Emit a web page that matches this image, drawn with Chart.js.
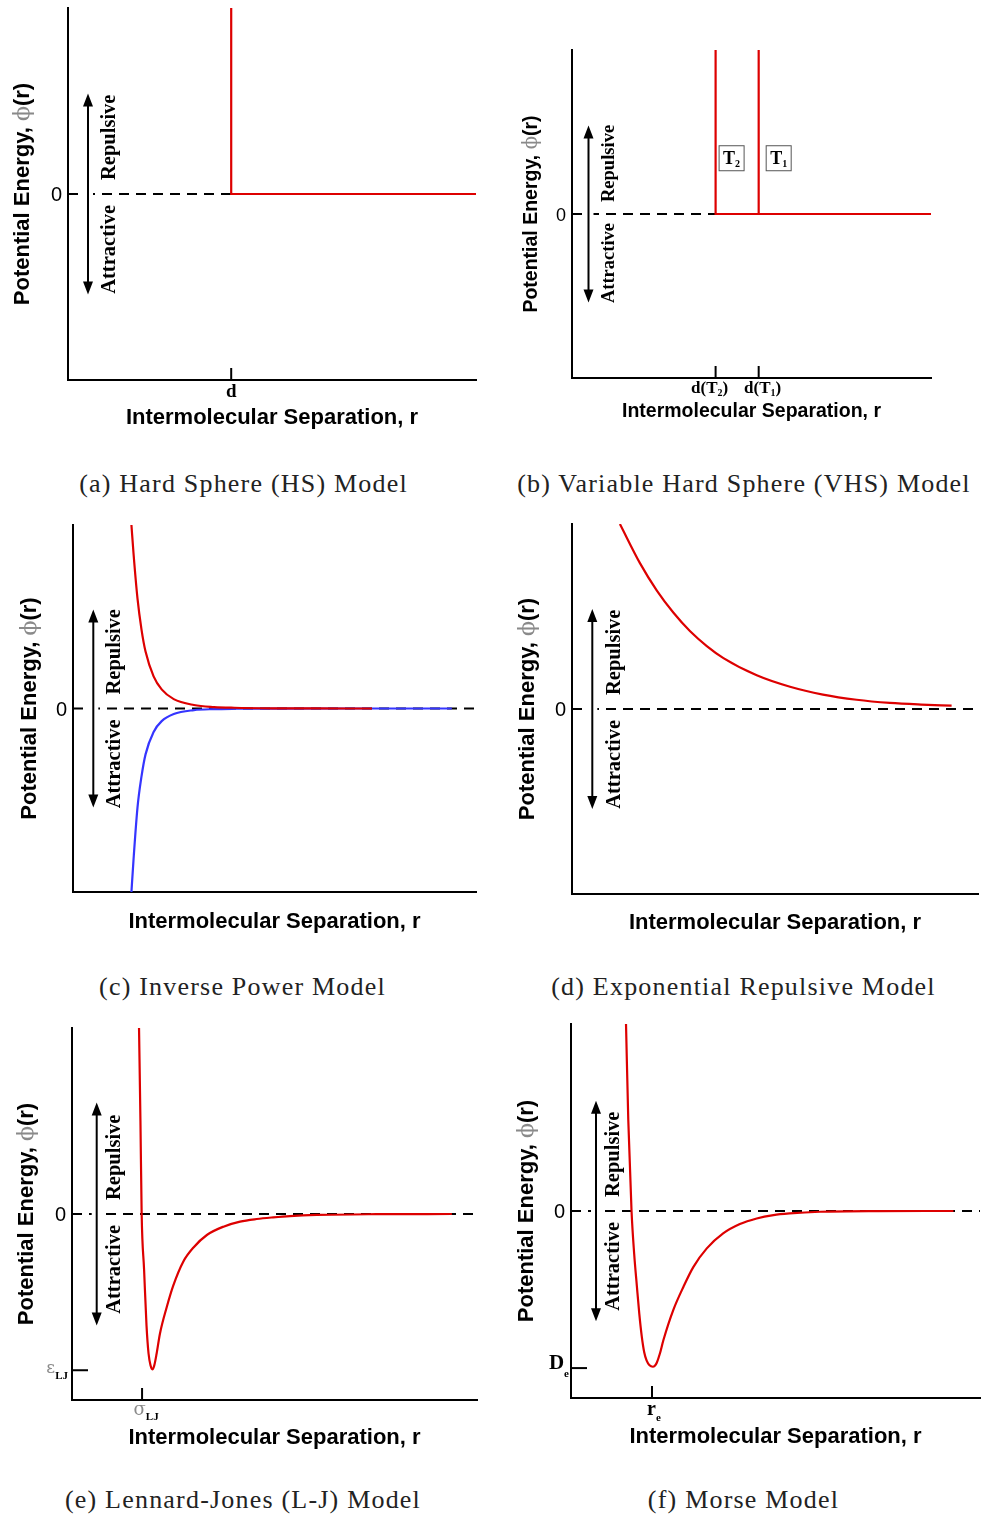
<!DOCTYPE html>
<html>
<head>
<meta charset="utf-8">
<title>Intermolecular potential models</title>
<script src="https://cdn.jsdelivr.net/npm/chart.js@4.4.1/dist/chart.umd.min.js"></script>
<style>
  body { margin: 0; background: #fff; }
  #page { position: relative; width: 982px; height: 1520px; overflow: hidden; }
  #page canvas { position: absolute; }
  .cap { position: absolute; transform: translateX(-50%); white-space: nowrap;
         font-family: "Liberation Serif", "Times New Roman", serif; font-size: 26px;
         letter-spacing: 1.2px; line-height: 30px; color: #222; }
</style>
</head>
<body>
<div id="page"></div>
<script>
// data: r in arbitrary units (0..10), phi scaled to -1..1
const rAxis = [0, 10];
const zeroPhi = [0, 0];

// (a) hard sphere
const hsR = [4, 4, 10];
const hsPhi = [1, 0, 0];
const hsTickR = [4];
const hsTickLabels = ['d'];

// (b) variable hard sphere
const vhsT2R = [4, 4, 10];
const vhsT2Phi = [1, 0, 0];
const vhsT1R = [5.2, 5.2];
const vhsT1Phi = [1, 0];
const vhsTickR = [4, 5.2];
const vhsTickSubs = ['2', '1'];
const vhsBoxPhi = 0.34;

// (c) inverse power
const ipRepR = [1.45, 1.5, 1.6, 1.7, 1.8, 2.0, 2.2, 2.5, 3.0, 3.5, 4.0, 5.0, 6.0, 7.42];
const ipRepPhi = [1.0, 0.85, 0.60, 0.43, 0.31, 0.175, 0.104, 0.051, 0.019, 0.008, 0.004, 0.001, 0.0003, 0];
const ipAttR = [1.45, 1.5, 1.6, 1.7, 1.8, 2.0, 2.2, 2.5, 3.0, 3.5, 4.0, 5.0, 7.0, 9.4];
const ipAttPhi = [-1.0, -0.83, -0.54, -0.37, -0.25, -0.128, -0.069, -0.030, -0.009, -0.0034, -0.0014, -0.0003, 0, 0];

// (d) exponential repulsive
const erR = [1.18, 1.67, 2.09, 2.50, 2.91, 3.32, 3.73, 4.55, 5.37, 6.18, 7.01, 7.83, 8.6, 9.35];
const erPhi = [1.0, 0.79, 0.64, 0.52, 0.42, 0.34, 0.275, 0.182, 0.12, 0.078, 0.05, 0.033, 0.024, 0.018];

// (e) Lennard-Jones
const ljR = [1.655, 1.69, 1.72, 1.78, 1.84, 1.89, 1.94, 1.983, 2.03, 2.09, 2.17, 2.34, 2.50, 2.75, 3.0, 3.33, 3.74, 4.15, 4.56, 4.97, 5.38, 6.04, 7.5, 9.38];
const ljPhi = [1.0, 0.5, 0.0, -0.30, -0.60, -0.75, -0.815, -0.835, -0.815, -0.75, -0.645, -0.50, -0.385, -0.255, -0.18, -0.113, -0.068, -0.041, -0.027, -0.018, -0.011, -0.005, -0.001, 0];
const ljSigma = 1.73;
const ljEps = -0.84;

// (f) Morse
const mR = [1.345, 1.40, 1.48, 1.545, 1.61, 1.67, 1.73, 1.79, 1.85, 1.92, 2.0, 2.05, 2.10, 2.17, 2.26, 2.50, 2.75, 2.99, 3.32, 3.72, 4.13, 4.54, 4.95, 5.35, 6.09, 7.5, 9.35];
const mPhi = [1.0, 0.49, 0.0, -0.23, -0.40, -0.55, -0.67, -0.755, -0.80, -0.825, -0.833, -0.828, -0.81, -0.765, -0.69, -0.53, -0.405, -0.30, -0.20, -0.12, -0.07, -0.04, -0.022, -0.013, -0.004, -0.0005, 0];
const mRe = 1.98;
const mDe = -0.84;

const captions = [
  '(a) Hard Sphere (HS) Model',
  '(b) Variable Hard Sphere (VHS) Model',
  '(c) Inverse Power Model',
  '(d) Exponential Repulsive Model',
  '(e) Lennard-Jones (L-J) Model',
  '(f) Morse Model'
];

// ---- styling helpers ----
const RED = '#dd0000';
const BLUE = '#3535ff';
const SANS = '"Liberation Sans", Arial, sans-serif';
const SERIF = '"Liberation Serif", "Times New Roman", serif';
const sans = (s, b) => (b ? 'bold ' : '') + s + 'px ' + SANS;
const serif = (s, b) => (b ? 'bold ' : '') + s + 'px ' + SERIF;

const pts = (xs, ys) => xs.map((x, i) => ({ x: x, y: ys[i] }));
const line = (xs, ys, color, smooth) => ({
  data: pts(xs, ys), borderColor: color, borderWidth: 2.2, pointRadius: 0,
  fill: false, tension: 0, cubicInterpolationMode: smooth ? 'monotone' : 'default'
});
const zeroLine = () => ({
  data: pts(rAxis, zeroPhi), borderColor: '#000', borderWidth: 2, borderDash: [10, 7],
  pointRadius: 0, fill: false
});

function rich(ctx, parts, x, y, align) {
  let w = 0;
  parts.forEach(p => { ctx.font = p.f; p.w = ctx.measureText(p.t).width; w += p.w; });
  let cx = align === 'center' ? x - w / 2 : align === 'right' ? x - w : x;
  ctx.textAlign = 'left';
  ctx.textBaseline = 'alphabetic';
  parts.forEach(p => {
    ctx.font = p.f;
    ctx.fillStyle = p.c || '#000';
    ctx.fillText(p.t, cx, y + (p.dy || 0));
    cx += p.w;
  });
}
function rotText(ctx, parts, x, y, align) {
  ctx.save();
  ctx.translate(x, y);
  ctx.rotate(-Math.PI / 2);
  rich(ctx, parts, 0, 0, align);
  ctx.restore();
}
const yTitleParts = s => [
  { t: 'Potential Energy, ', f: sans(s, true) },
  { t: 'ϕ', f: s + 'px "DejaVu Serif"', c: '#8a8a8a' },
  { t: '(r)', f: sans(s, true) }
];

// ---- panel layout (page pixels) ----
const panels = [
  { box: [0, 0, 491, 455], area: [68, 8, 476, 380], title: 22, side: 20.5, zero: 20,
    yTitleX: 29, xTitleY: 424, arrowDx: 20, arrowSpan: 0.54, sideX: 115, gapUp: 14, gapDown: 11,
    datasets: [line(hsR, hsPhi, RED), zeroLine()],
    xTicks: hsTickR.map((v, i) => ({ v: v, dx: 0, y: 397, parts: [{ t: hsTickLabels[i], f: serif(19, true) }] })),
    yTicks: [], boxes: [] },
  { box: [491, 0, 491, 455], area: [572, 50, 931, 378], title: 19.5, side: 18.5, zero: 18,
    yTitleX: 537, xTitleY: 417, arrowDx: 16.5, arrowSpan: 0.54, sideX: 614, gapUp: 12, gapDown: 9,
    datasets: [line(vhsT2R, vhsT2Phi, RED), line(vhsT1R, vhsT1Phi, RED), zeroLine()],
    xTicks: vhsTickR.map((v, i) => ({ v: v, dx: i === 0 ? -6 : 4, y: 393, parts: [
      { t: 'd(T', f: serif(17, true) }, { t: vhsTickSubs[i], f: serif(10, true), dy: 3 }, { t: ')', f: serif(17, true) }] })),
    yTicks: [],
    boxes: vhsTickR.map((v, i) => ({ v: v, phi: vhsBoxPhi, dx: i === 0 ? 3 : 7, parts: [
      { t: 'T', f: serif(18, true) }, { t: vhsTickSubs[i], f: serif(10, true), dy: 3 }] })) },
  { box: [0, 455, 491, 505], area: [73, 525, 476, 892], title: 22, side: 20.5, zero: 20,
    yTitleX: 35.8, xTitleY: 927.5, arrowDx: 20.3, arrowSpan: 0.54, sideX: 120, gapUp: 14, gapDown: 11,
    datasets: [line(ipRepR, ipRepPhi, RED, true), line(ipAttR, ipAttPhi, BLUE, true), zeroLine()],
    xTicks: [], yTicks: [], boxes: [] },
  { box: [491, 455, 491, 505], area: [572, 524, 978, 894], title: 22, side: 20.5, zero: 20,
    yTitleX: 534, xTitleY: 929, arrowDx: 20.3, arrowSpan: 0.54, sideX: 620, gapUp: 14, gapDown: 11,
    datasets: [line(erR, erPhi, RED, true), zeroLine()],
    xTicks: [], yTicks: [], boxes: [] },
  { box: [0, 960, 491, 500], area: [72, 1028, 477, 1400], title: 22, side: 20.5, zero: 20,
    yTitleX: 32.5, xTitleY: 1444, arrowDx: 24.7, arrowSpan: 0.6, sideX: 119.5, gapUp: 14, gapDown: 11,
    datasets: [line(ljR, ljPhi, RED, true), zeroLine()],
    xTicks: [{ v: ljSigma, dx: 4, y: 1415, parts: [
      { t: 'σ', f: '18px "DejaVu Serif"', c: '#8a8a8a' }, { t: 'LJ', f: serif(11, true), dy: 5 }] }],
    yTicks: [{ v: ljEps, rx: 4, dy: 3, parts: [
      { t: 'ε', f: '17px "DejaVu Serif"', c: '#8a8a8a' }, { t: 'LJ', f: serif(11, true), dy: 6 }] }],
    boxes: [] },
  { box: [491, 960, 491, 500], area: [571, 1024, 980, 1398], title: 22, side: 20.5, zero: 20,
    yTitleX: 532.5, xTitleY: 1442.5, arrowDx: 25, arrowSpan: 0.59, sideX: 618.5, gapUp: 14, gapDown: 11,
    datasets: [line(mR, mPhi, RED, true), zeroLine()],
    xTicks: [{ v: mRe, dx: 2, y: 1415, parts: [
      { t: 'r', f: serif(20, true) }, { t: 'e', f: serif(11, true), dy: 6 }] }],
    yTicks: [{ v: mDe, rx: 2, dy: 1, parts: [
      { t: 'D', f: serif(21, true) }, { t: 'e', f: serif(11, true), dy: 8 }] }],
    boxes: [] }
];
const capPos = [[243.5, 484], [744, 484], [242.5, 987], [743.5, 987], [243, 1500], [743.5, 1500]];

function makeDecor(p) {
  const ox = p.box[0], oy = p.box[1];
  return {
    id: 'decor',
    afterDatasetsDraw(chart) {
      const ctx = chart.ctx, xs = chart.scales.x, ys = chart.scales.y, A = chart.chartArea;
      const y0 = ys.getPixelForValue(0);
      ctx.save();
      // double arrow
      const ax = A.left + p.arrowDx;
      const aT = ys.getPixelForValue(p.arrowSpan), aB = ys.getPixelForValue(-p.arrowSpan);
      ctx.fillStyle = '#fff';
      ctx.fillRect(ax - 5, y0 - 2, 10, 4);
      ctx.strokeStyle = '#000';
      ctx.fillStyle = '#000';
      ctx.lineWidth = 2;
      ctx.beginPath();
      ctx.moveTo(ax, aT + 8); ctx.lineTo(ax, aB - 8);
      ctx.stroke();
      ctx.beginPath();
      ctx.moveTo(ax, aT); ctx.lineTo(ax - 5, aT + 13); ctx.lineTo(ax + 5, aT + 13); ctx.closePath();
      ctx.moveTo(ax, aB); ctx.lineTo(ax - 5, aB - 13); ctx.lineTo(ax + 5, aB - 13); ctx.closePath();
      ctx.fill();
      // side words
      rotText(ctx, [{ t: 'Repulsive', f: serif(p.side, true) }], p.sideX - ox, y0 - p.gapUp, 'left');
      rotText(ctx, [{ t: 'Attractive', f: serif(p.side, true) }], p.sideX - ox, y0 + p.gapDown, 'right');
      // zero label
      rich(ctx, [{ t: '0', f: sans(p.zero) }], A.left - 6, y0 + 7, 'right');
      // axis titles
      rotText(ctx, yTitleParts(p.title), p.yTitleX - ox, (A.top + A.bottom) / 2, 'center');
      rich(ctx, [{ t: 'Intermolecular Separation, r', f: sans(p.title, true) }], (A.left + A.right) / 2, p.xTitleY - oy, 'center');
      // x ticks (inward) with labels
      ctx.strokeStyle = '#000';
      ctx.lineWidth = 2;
      p.xTicks.forEach(t => {
        const px = xs.getPixelForValue(t.v);
        ctx.beginPath(); ctx.moveTo(px, A.bottom); ctx.lineTo(px, A.bottom - 12); ctx.stroke();
        rich(ctx, t.parts, px + t.dx, t.y - oy, 'center');
      });
      p.yTicks.forEach(t => {
        const py = ys.getPixelForValue(t.v);
        ctx.beginPath(); ctx.moveTo(A.left, py); ctx.lineTo(A.left + 16, py); ctx.stroke();
        rich(ctx, t.parts, A.left - t.rx, py + t.dy, 'right');
      });
      // temperature boxes
      p.boxes.forEach(b => {
        const bx = xs.getPixelForValue(b.v) + b.dx, by = ys.getPixelForValue(b.phi);
        ctx.fillStyle = '#fff';
        ctx.fillRect(bx, by - 13, 26, 26);
        ctx.strokeStyle = '#555';
        ctx.lineWidth = 1;
        ctx.strokeRect(bx + 0.5, by - 12.5, 25, 25);
        rich(ctx, b.parts, bx + 13, by + 6, 'center');
      });
      ctx.restore();
    }
  };
}

const page = document.getElementById('page');
panels.forEach((p, i) => {
  const cv = document.createElement('canvas');
  cv.width = p.box[2];
  cv.height = p.box[3];
  cv.style.left = p.box[0] + 'px';
  cv.style.top = p.box[1] + 'px';
  page.appendChild(cv);
  const axisOpts = (min, max) => ({
    type: 'linear', min: min, max: max,
    grid: { display: false, drawTicks: false },
    ticks: { display: false },
    border: { display: true, color: '#000', width: 2 }
  });
  const xOpts = axisOpts(rAxis[0], rAxis[1]);
  xOpts.afterFit = s => { s.height = 0; };
  const yOpts = axisOpts(-1, 1);
  yOpts.afterFit = s => { s.width = 0; };
  new Chart(cv, {
    type: 'line',
    data: { datasets: p.datasets },
    options: {
      responsive: false, animation: false, devicePixelRatio: 1, events: [],
      layout: {
        autoPadding: false,
        padding: { left: p.area[0] - p.box[0], top: p.area[1] - p.box[1],
                   right: p.box[0] + p.box[2] - p.area[2], bottom: p.box[1] + p.box[3] - p.area[3] }
      },
      scales: { x: xOpts, y: yOpts },
      plugins: { legend: { display: false }, tooltip: { enabled: false } }
    },
    plugins: [makeDecor(p)]
  });
  const cap = document.createElement('div');
  cap.className = 'cap';
  cap.textContent = captions[i];
  cap.style.left = capPos[i][0] + 'px';
  cap.style.top = (capPos[i][1] - 15) + 'px';
  page.appendChild(cap);
});
</script>
</body>
</html>
